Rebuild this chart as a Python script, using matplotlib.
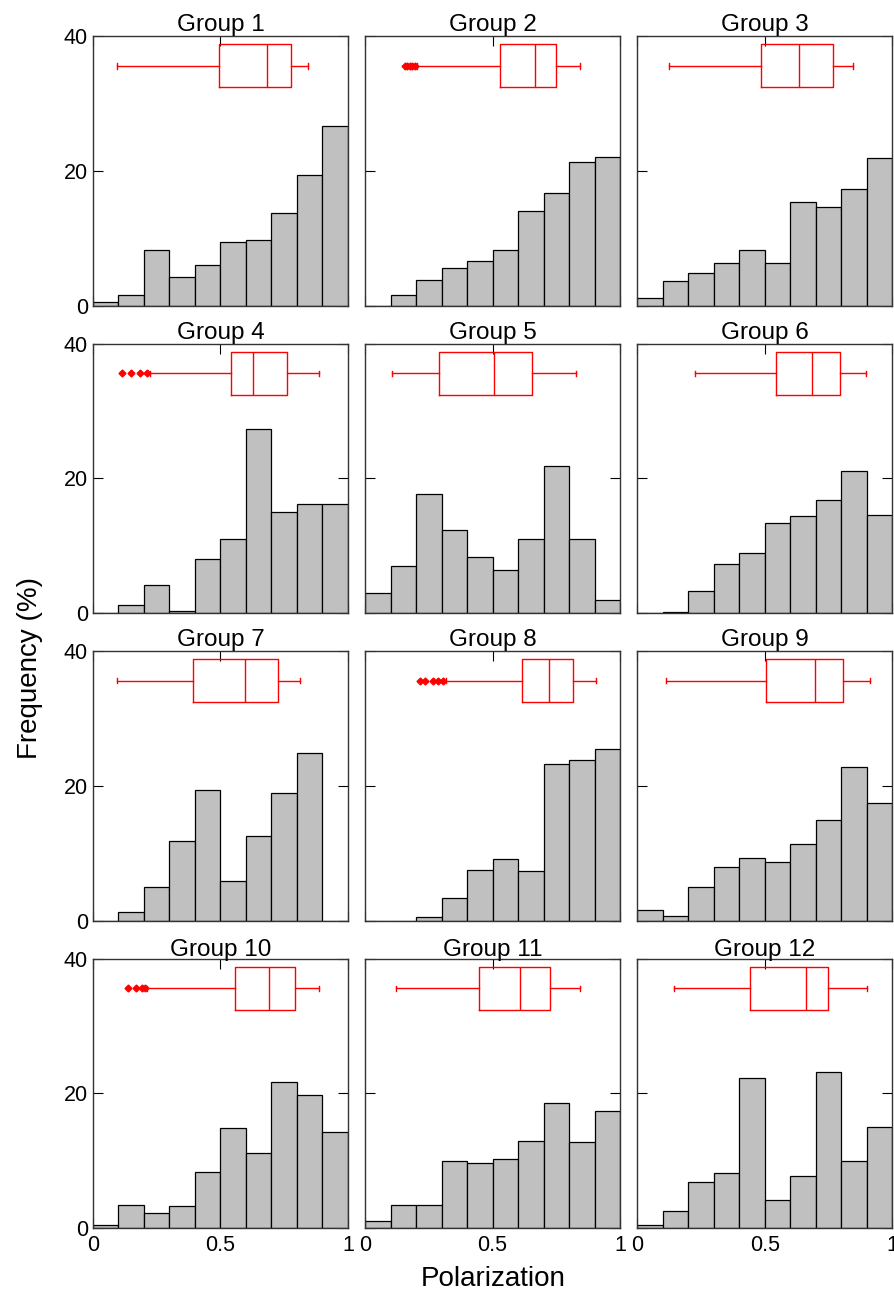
import matplotlib
matplotlib.use('Agg')
import matplotlib.pyplot as plt
import numpy as np

plt.rcParams['font.family'] = ['Liberation Sans', 'DejaVu Sans']

GROUPS = [f'Group {i}' for i in range(1, 13)]
BIN_EDGES = np.linspace(0, 1, 11)

# frequency (%) per 0.1-wide bin, one row per group
FREQ = [
    [0.5, 1.6, 8.2, 4.2, 6.0, 9.5, 9.8, 13.7, 19.4, 26.7],
    [0.0, 1.6, 3.8, 5.6, 6.6, 8.3, 14.0, 16.7, 21.3, 22.1],
    [1.1, 3.6, 4.8, 6.4, 8.3, 6.4, 15.4, 14.6, 17.3, 21.9],
    [0.0, 1.2, 4.2, 0.3, 8.1, 11.0, 27.3, 15.0, 16.2, 16.2],
    [3.0, 7.0, 17.7, 12.3, 8.3, 6.4, 11.0, 21.8, 11.0, 1.9],
    [0.0, 0.1, 3.3, 7.3, 8.9, 13.4, 14.4, 16.8, 21.1, 14.5],
    [0.0, 1.3, 5.0, 11.8, 19.4, 5.9, 12.6, 19.0, 24.9, 0.0],
    [0.0, 0.0, 0.6, 3.3, 7.5, 9.1, 7.3, 23.2, 23.8, 25.4],
    [1.6, 0.7, 5.0, 8.0, 9.3, 8.7, 11.3, 14.9, 22.8, 17.5],
    [0.4, 3.4, 2.3, 3.2, 8.3, 14.8, 11.1, 21.7, 19.8, 14.2],
    [1.0, 3.4, 3.4, 9.9, 9.6, 10.3, 12.9, 18.6, 12.7, 17.4],
    [0.4, 2.5, 6.8, 8.1, 22.2, 4.2, 7.7, 23.1, 9.9, 15.0],
]

# box plot statistics of polarization per group
WHIS_LO = [0.095, 0.202, 0.123, 0.222, 0.107, 0.225, 0.095, 0.317, 0.112, 0.212, 0.120, 0.144]
Q1 = [0.495, 0.531, 0.486, 0.541, 0.291, 0.545, 0.391, 0.614, 0.505, 0.558, 0.445, 0.442]
MEDIAN = [0.681, 0.665, 0.634, 0.629, 0.506, 0.684, 0.595, 0.722, 0.699, 0.690, 0.609, 0.660]
Q3 = [0.776, 0.750, 0.769, 0.759, 0.656, 0.795, 0.725, 0.817, 0.808, 0.793, 0.724, 0.750]
WHIS_HI = [0.843, 0.844, 0.847, 0.886, 0.828, 0.898, 0.813, 0.904, 0.911, 0.888, 0.842, 0.902]
FLIERS = [
    [],
    [0.155, 0.165, 0.175, 0.185, 0.195],
    [],
    [0.115, 0.148, 0.183, 0.212],
    [], [], [],
    [0.215, 0.235, 0.267, 0.287, 0.306],
    [],
    [0.139, 0.169, 0.193, 0.205],
    [], [],
]

RED = '#ff0000'
GREY = '#c0c0c0'

fig, axes = plt.subplots(4, 3, figsize=(8.94, 12.92), dpi=100, sharex=True, sharey=True)
fig.subplots_adjust(left=0.104, right=0.998, top=0.972, bottom=0.0495, wspace=0.067, hspace=0.141)

for i, ax in enumerate(axes.flat):
    ax.bar(BIN_EDGES[:-1], FREQ[i], width=0.1, align='edge', color=GREY,
           edgecolor='black', linewidth=0.9, zorder=2)
    stats = [dict(med=MEDIAN[i], q1=Q1[i], q3=Q3[i], whislo=WHIS_LO[i],
                  whishi=WHIS_HI[i], fliers=FLIERS[i])]
    ax.bxp(stats, positions=[35.6], widths=6.4, vert=False, capwidths=0.8,
           manage_ticks=False,
           boxprops=dict(color=RED, linewidth=1),
           medianprops=dict(color=RED, linewidth=1),
           whiskerprops=dict(color=RED, linewidth=1),
           capprops=dict(color=RED, linewidth=1),
           flierprops=dict(marker='D', markersize=3.5, markerfacecolor=RED,
                           markeredgecolor=RED, linestyle='none'),
           zorder=3)
    ax.set_xlim(0, 1)
    ax.set_ylim(0, 40)
    ax.set_title(GROUPS[i], fontsize=17.5, pad=2)
    ax.set_xticks([0, 0.5, 1])
    ax.set_xticklabels(['0', '0.5', '1'])
    ax.set_yticks([0, 20, 40])
    ax.tick_params(direction='in', top=True, right=True, length=7, width=0.8,
                   labelsize=15.5)
    ax.tick_params(axis='x', pad=5)
    for s in ax.spines.values():
        s.set_color('#333333')
        s.set_linewidth(1)

fig.text(0.033, 0.483, 'Frequency (%)', rotation=90, ha='center', va='center', fontsize=20)
fig.text(0.552, 0.0, 'Polarization', ha='center', va='bottom', fontsize=20)

fig.savefig('out.png', dpi=100)
